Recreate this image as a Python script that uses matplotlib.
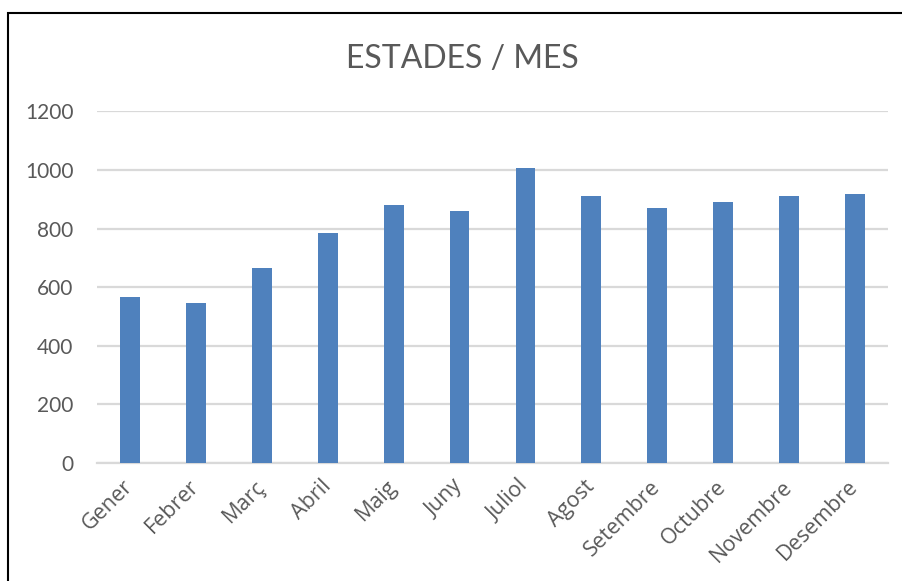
import matplotlib
import matplotlib.pyplot as plt
from matplotlib.patches import Rectangle

plt.switch_backend('agg')

# data
months = ['Gener', 'Febrer', 'Març', 'Abril', 'Maig', 'Juny',
          'Juliol', 'Agost', 'Setembre', 'Octubre', 'Novembre', 'Desembre']
stays = [567, 547, 664, 786, 881, 861, 1008, 911, 869, 892, 910, 917]
yticks = [0, 200, 400, 600, 800, 1000, 1200]

grey = '#595959'
bar_col = '#4F81BD'
grid_col = '#D9D9D9'

fig = plt.figure(figsize=(9.03, 5.81), dpi=100)
ax = fig.add_axes([0.1074, 0.2036, 0.876, 0.6045])

x = range(len(months))
ax.bar(x, stays, width=0.30, color=bar_col, zorder=3)

ax.set_xlim(-0.5, len(months) - 0.5)
ax.set_ylim(0, 1200)
ax.set_yticks(yticks)
ax.set_yticklabels([str(v) for v in yticks], fontsize=15, color=grey, family='Lato')
ax.yaxis.grid(True, color=grid_col, linewidth=1.6, zorder=0)
ax.tick_params(axis='y', length=0, pad=17)

ax.set_xticks(list(x))
ax.set_xticklabels(months, rotation=45, ha='right', va='center', rotation_mode='anchor',
                   fontsize=15.5, color=grey, family='Open Sans')
ax.tick_params(axis='x', length=0, pad=15)

for side in ['top', 'right', 'left']:
    ax.spines[side].set_visible(False)
ax.spines['bottom'].set_color(grid_col)
ax.spines['bottom'].set_linewidth(1.6)

fig.text(0.512, 0.898, 'ESTADES / MES', ha='center', va='center',
         fontsize=23, color=grey, family='Lato')

# black frame, only top and left edges are inside the picture
fig.patches.append(Rectangle((8 / 903, -0.1), 1.2, 1 - 13 / 581 + 0.1,
                             transform=fig.transFigure, fill=False,
                             edgecolor='black', linewidth=1.5))

fig.savefig('out.png', dpi=100)
